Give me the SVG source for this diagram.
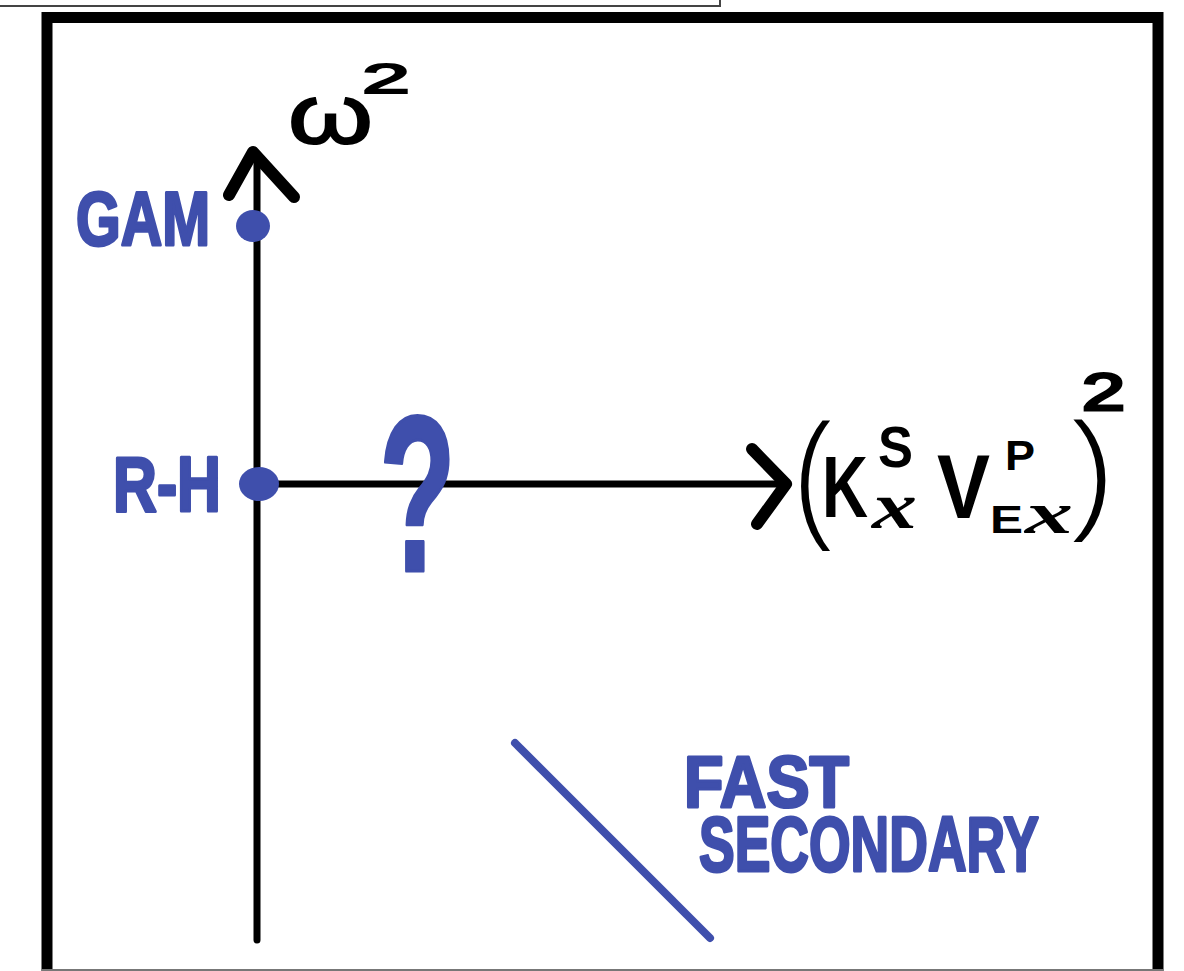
<svg xmlns="http://www.w3.org/2000/svg" width="1184" height="971" viewBox="0 0 1184 971">
  <style>
    .blue { fill: #3f4fac; stroke: #3f4fac; stroke-width: 3; stroke-linejoin: round; }
    .blk { fill: #000; }
    .hand { font-family: "Liberation Sans", "DejaVu Sans", sans-serif; font-weight: bold; }
    .reg { font-family: "Liberation Sans", "DejaVu Sans", sans-serif; font-weight: normal; }
    .thin { font-family: "Open Sans", "DejaVu Sans", sans-serif; font-weight: 300; }
    .scr { font-family: "Liberation Serif", serif; font-style: italic; font-weight: bold; }
    .ax { stroke: #000; stroke-width: 7; fill: none; stroke-linecap: round; stroke-linejoin: round; }
    .head { stroke: #000; stroke-width: 12; fill: none; stroke-linecap: round; stroke-linejoin: round; }
    .bl { stroke: #3f4fac; stroke-width: 8; fill: none; stroke-linecap: round; }
  </style>
  <rect x="0" y="0" width="1184" height="971" fill="#fff"/>
  <g id="frame">
    <rect x="-3" y="-3" width="723" height="9" fill="none" stroke="#444" stroke-width="2"/>
    <rect x="47" y="17.5" width="1111" height="970" fill="none" stroke="#000" stroke-width="11"/>
    <line x1="42" y1="970" x2="1163" y2="970" stroke="#777" stroke-width="2"/>
  </g>
  <g id="connectors">
    <path class="ax" d="M257,940 L257,156"/>
    <path class="head" d="M229,195 L253,152 L294,197"/>
    <path class="ax" d="M258,484 L784,484"/>
    <path class="head" d="M752,449 L786,484 L757,524"/>
    <path class="bl" d="M515,743 L710,938"/>
  </g>
  <g id="y-label">
    <text class="reg blk" stroke="#000" stroke-width="2"><tspan x="288" y="143" font-size="84" textLength="85" lengthAdjust="spacingAndGlyphs">ω</tspan><tspan x="362" y="93" font-size="42" textLength="48" lengthAdjust="spacingAndGlyphs">2</tspan></text>
  </g>
  <g id="gam">
    <text class="hand blue" x="76" y="245" font-size="76" textLength="134" lengthAdjust="spacingAndGlyphs">GAM</text>
    <ellipse cx="253" cy="226" rx="17" ry="16" fill="#3f4fac"/>
  </g>
  <g id="rh">
    <text class="hand blue" x="113" y="511" font-size="78" textLength="108" lengthAdjust="spacingAndGlyphs">R-H</text>
    <ellipse cx="259" cy="484" rx="20" ry="17" fill="#3f4fac"/>
  </g>
  <g id="question">
    <text class="hand blue" x="379" y="571" font-size="222" textLength="77" lengthAdjust="spacingAndGlyphs">?</text>
  </g>
  <g id="x-label">
    <text class="blk"><tspan class="thin" x="795" y="527" font-size="150" textLength="40" lengthAdjust="spacingAndGlyphs">(</tspan><tspan class="hand" x="822" y="517" font-size="87" textLength="46" lengthAdjust="spacingAndGlyphs">K</tspan><tspan class="hand" x="878" y="467" font-size="58" textLength="35" lengthAdjust="spacingAndGlyphs">S</tspan><tspan class="scr" x="872" y="528" font-size="66" textLength="45" lengthAdjust="spacingAndGlyphs">x</tspan><tspan class="hand" x="937" y="518" font-size="91" textLength="53" lengthAdjust="spacingAndGlyphs">V</tspan><tspan class="hand" x="1005" y="470" font-size="42" textLength="30" lengthAdjust="spacingAndGlyphs">P</tspan><tspan class="hand" x="990" y="533" font-size="39" textLength="33" lengthAdjust="spacingAndGlyphs">E</tspan><tspan class="scr" x="1025" y="533" font-size="60" textLength="48" lengthAdjust="spacingAndGlyphs">x</tspan><tspan class="thin" x="1068" y="520" font-size="140" textLength="44" lengthAdjust="spacingAndGlyphs">)</tspan><tspan class="reg" x="1082" y="410" font-size="52" stroke="#000" stroke-width="3" textLength="43" lengthAdjust="spacingAndGlyphs">2</tspan></text>
  </g>
  <g id="fast-secondary">
    <text class="hand blue" x="684" y="807" font-size="72" textLength="165" lengthAdjust="spacingAndGlyphs">FAST</text>
    <text class="hand blue" font-size="78" transform="translate(699,871) scale(0.686,1)" x="0" y="0">SECONDARY</text>
  </g>
</svg>
